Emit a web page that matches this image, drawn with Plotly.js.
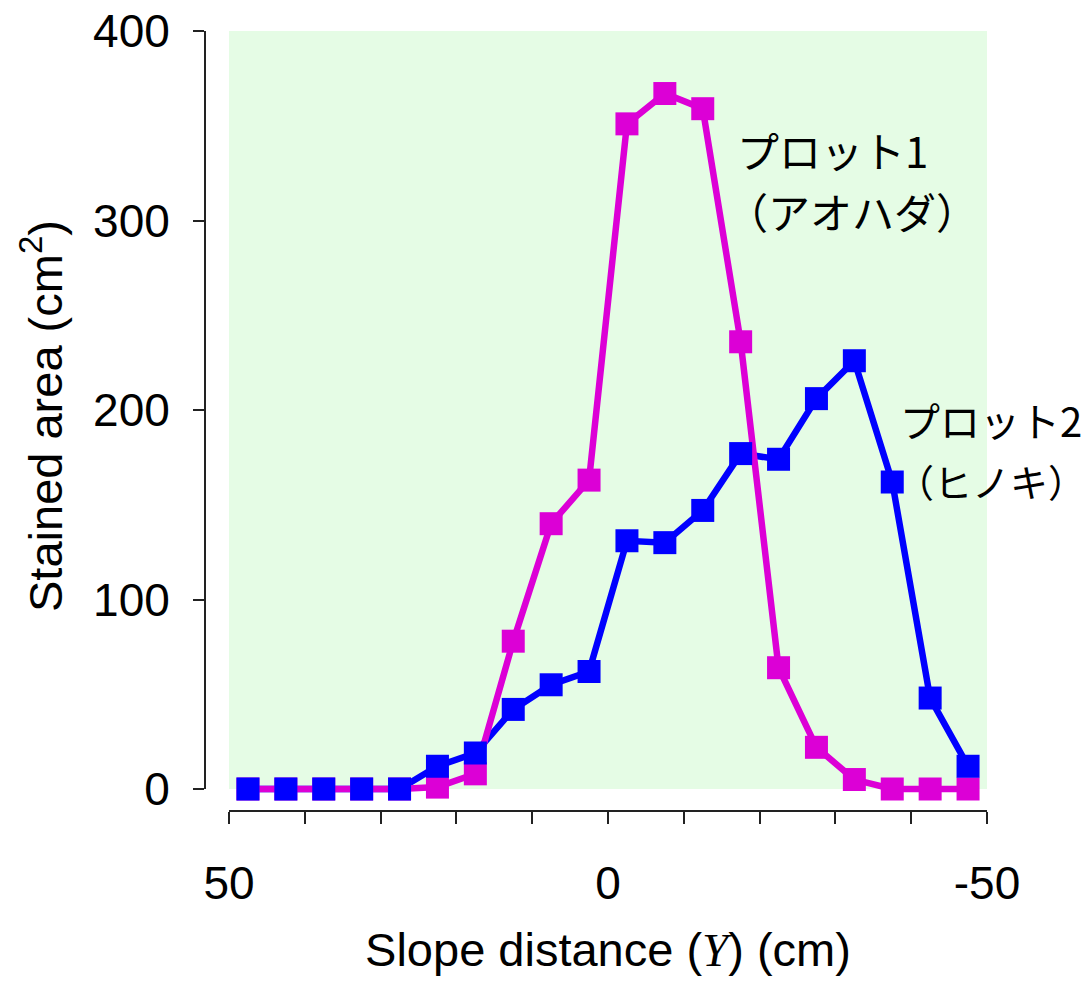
<!DOCTYPE html>
<html>
<head>
<meta charset="utf-8">
<script src="https://cdn.plot.ly/plotly-3.0.1.min.js"></script>
<style>html,body{margin:0;padding:0;background:#fff;}#chart{width:1086px;height:983px;}</style>
</head>
<body>
<div id="chart"></div>
<script>
// Data
var slopeDistance = [47.5, 42.5, 37.5, 32.5, 27.5, 22.5, 17.5, 12.5, 7.5, 2.5, -2.5, -7.5, -12.5, -17.5, -22.5, -27.5, -32.5, -37.5, -42.5, -47.5];
var plot1Aohada = [0, 0, 0, 0, 0, 1, 8, 78, 140, 163, 351, 367, 359, 236, 64, 22, 5, 0, 0, 0];
var plot2Hinoki = [0, 0, 0, 0, 0, 12, 19, 42, 55, 62, 131, 130, 147, 177, 174, 206, 226, 162, 48, 12];
var xTickVals = [50, 0, -50];
var xTickText = ['50', '0', '-50'];
var xMinorTickVals = [40, 30, 20, 10, -10, -20, -30, -40];
var yTickVals = [0, 100, 200, 300, 400];
var yTickText = ['0', '100', '200', '300', '400'];

var W = 1086, H = 983;
// pixel geometry of the visible axes
var px0 = 229, px1 = 987;   // x: 50 -> -50
var py0 = 789, py1 = 31;    // y: 0 -> 400
var xScale = (px1 - px0) / 100;
var yScale = (py0 - py1) / 400;

var magenta = '#DC00D6', blue = '#0000FF';
var font = 'Liberation Sans, Arial, sans-serif';
var jpFont = 'Noto Sans CJK JP';

var traces = [
  {x: slopeDistance, y: plot2Hinoki, mode: 'lines', line: {color: blue, width: 6.5}, xaxis: 'x', yaxis: 'y', hoverinfo: 'skip', showlegend: false},
  {x: slopeDistance, y: plot1Aohada, mode: 'lines', line: {color: magenta, width: 6.5}, xaxis: 'x', yaxis: 'y', hoverinfo: 'skip', showlegend: false},
  {x: slopeDistance, y: plot1Aohada, mode: 'markers', marker: {symbol: 'square', size: 23, color: magenta}, cliponaxis: false, xaxis: 'x', yaxis: 'y', name: 'プロット1（アオハダ）', showlegend: false},
  {x: slopeDistance, y: plot2Hinoki, mode: 'markers', marker: {symbol: 'square', size: 23, color: blue}, cliponaxis: false, xaxis: 'x', yaxis: 'y', name: 'プロット2（ヒノキ）', showlegend: false},
  {x: [0], y: [0], mode: 'markers', marker: {opacity: 0}, xaxis: 'x2', yaxis: 'y2', hoverinfo: 'skip', showlegend: false}
];

var layout = {
  width: W, height: H,
  margin: {l: 0, r: 0, t: 0, b: 0},
  paper_bgcolor: '#ffffff',
  plot_bgcolor: 'rgba(0,0,0,0)',
  showlegend: false,
  font: {family: font, color: '#000'},
  xaxis: {
    domain: [0, 1], range: [50 + px0 / xScale, 50 - (W - px0) / xScale],
    visible: false, fixedrange: true
  },
  yaxis: {
    domain: [0, 1], range: [-(H - py0) / yScale, py0 / yScale],
    visible: false, fixedrange: true
  },
  xaxis2: {
    domain: [px0 / W, px1 / W], range: [50, -50],
    anchor: 'free', position: (H - 811) / H,
    showgrid: false, zeroline: false,
    showline: true, linecolor: '#222', linewidth: 2,
    ticks: 'outside', ticklen: 12, tickwidth: 2, tickcolor: '#222',
    tickvals: xTickVals, ticktext: xTickText,
    minor: {tickvals: xMinorTickVals, ticks: 'outside', ticklen: 12, tickwidth: 2, tickcolor: '#222', showgrid: false},
    tickfont: {family: font, size: 46, color: '#000'},
    ticklabelstandoff: 20,
    title: {text: 'Slope distance (<span style="font-family:Liberation Serif;font-style:italic">Y</span>) (cm)', font: {family: font, size: 47, color: '#000'}, standoff: 24},
    automargin: false
  },
  yaxis2: {
    domain: [(H - py0) / H, (H - py1) / H], range: [0, 400],
    anchor: 'free', position: 205 / W,
    showgrid: false, zeroline: false,
    showline: true, linecolor: '#222', linewidth: 2,
    ticks: 'outside', ticklen: 11, tickwidth: 2, tickcolor: '#222',
    tickvals: yTickVals, ticktext: yTickText,
    tickfont: {family: font, size: 46, color: '#000'},
    ticklabelstandoff: 14,
    automargin: false
  },
  shapes: [
    {type: 'rect', xref: 'x', yref: 'y', x0: 50, x1: -50, y0: 0, y1: 400, fillcolor: '#E5FCE5', line: {width: 0}, layer: 'below'}
  ],
  annotations: [
    {xref: 'paper', yref: 'paper', x: 42 / W, y: (H - 416) / H, xanchor: 'center', yanchor: 'middle', textangle: -90, showarrow: false, text: 'Stained area (cm<sup>2</sup>)', font: {family: font, size: 47, color: '#000'}},
    {xref: 'paper', yref: 'paper', x: 735 / W, y: (H - 150) / H, xanchor: 'left', yanchor: 'middle', showarrow: false, text: 'プロット1', font: {family: jpFont, size: 42, color: '#000'}},
    {xref: 'paper', yref: 'paper', x: 724 / W, y: (H - 210) / H, xanchor: 'left', yanchor: 'middle', showarrow: false, text: '（アオハダ）', font: {family: jpFont, size: 42, color: '#000'}},
    {xref: 'paper', yref: 'paper', x: 898 / W, y: (H - 420) / H, xanchor: 'left', yanchor: 'middle', showarrow: false, text: 'プロット2', font: {family: jpFont, size: 40, color: '#000'}},
    {xref: 'paper', yref: 'paper', x: 894 / W, y: (H - 480) / H, xanchor: 'left', yanchor: 'middle', showarrow: false, text: '（ヒノキ）', font: {family: jpFont, size: 38, color: '#000'}}
  ]
};

Plotly.newPlot('chart', traces, layout, {displayModeBar: false, staticPlot: true});
</script>
</body>
</html>
